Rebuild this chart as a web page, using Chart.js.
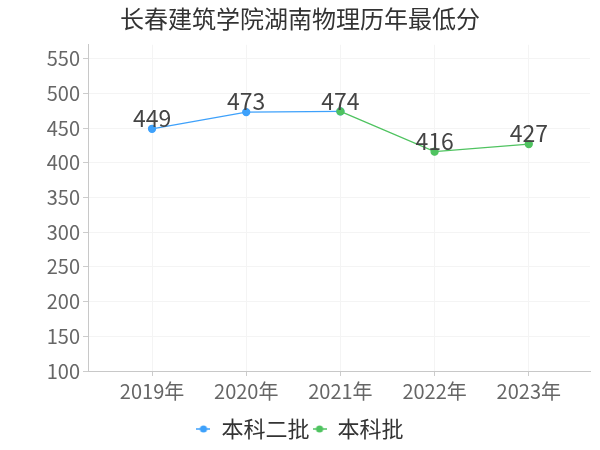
<!DOCTYPE html>
<html><head><meta charset="utf-8">
<script src="https://cdn.jsdelivr.net/npm/chart.js@4/dist/chart.umd.min.js"></script>
<style>html,body{margin:0;padding:0;background:#fff}#w{width:600px;height:450px}</style>
</head><body><div id="w"><canvas id="c" width="600" height="450"></canvas></div>
<script>
const categories = ['2019年','2020年','2021年','2022年','2023年'];
const seriesNames = ['本科二批','本科批'];
const erpiValues = [449, 473, 474, null, null];
const benkeValues = [null, null, 474, 416, 427];
const yTicks = [100,150,200,250,300,350,400,450,500,550];
const colors = ['#3ea1fb','#4fc360'];
const FONT = "'Noto Sans CJK SC','Noto Sans',sans-serif";

function toPts(arr){ return arr.map((v,i)=> v==null?null:{x:i,y:v}).filter(p=>p); }

function legendIcon(color){
  const c = document.createElement('canvas'); c.width = 14; c.height = 10;
  const g = c.getContext('2d');
  g.strokeStyle = color; g.lineWidth = 1.5;
  g.beginPath(); g.moveTo(0,5); g.lineTo(14,5); g.stroke();
  g.fillStyle = color; g.beginPath(); g.arc(7,5,3.6,0,Math.PI*2); g.fill();
  return c;
}

const labelPlugin = {
  id:'lbl',
  afterDatasetsDraw(chart){
    const ctx = chart.ctx; const seen = new Set();
    ctx.save();
    ctx.font = "23px " + FONT; ctx.fillStyle = '#444'; ctx.textAlign='center'; ctx.textBaseline='bottom';
    chart.data.datasets.forEach((ds,di)=>{
      const meta = chart.getDatasetMeta(di);
      meta.data.forEach((el,i)=>{
        const p = ds.data[i]; const key = p.x+'_'+p.y;
        if(seen.has(key)) return; seen.add(key);
        ctx.fillText(String(p.y), el.x, el.y + 1);
      });
    });
    ctx.restore();
  }
};

new Chart(document.getElementById('c'), {
  type:'line',
  data:{ datasets:[
    {label:seriesNames[0], order:1, data:toPts(erpiValues), borderColor:colors[0], backgroundColor:colors[0], borderWidth:1.3, pointRadius:3.5, pointHoverRadius:3.5, tension:0},
    {label:seriesNames[1], order:0, data:toPts(benkeValues), borderColor:colors[1], backgroundColor:colors[1], borderWidth:1.3, pointRadius:3.5, pointHoverRadius:3.5, tension:0}
  ]},
  options:{
    responsive:false, animation:false, devicePixelRatio:1,
    layout:{padding:{left:10,right:10,top:0,bottom:0}},
    plugins:{
      title:{display:true, text:'长春建筑学院湖南物理历年最低分', color:'#333', font:{family:FONT,size:24,weight:'normal'}, padding:{top:4,bottom:12}},
      legend:{position:'bottom', labels:{usePointStyle:true, pointStyleWidth:14, color:'#333', font:{family:FONT,size:22}, padding:3,
        generateLabels(chart){
          return chart.data.datasets.map((ds,i)=>({text:ds.label, pointStyle:legendIcon(ds.borderColor), fillStyle:ds.borderColor, strokeStyle:ds.borderColor, lineWidth:0, hidden:false, datasetIndex:i, fontColor:'#333'}));
        }}},
      tooltip:{enabled:false}
    },
    scales:{
      x:{type:'linear', min:-0.68, max:4.65,
        afterBuildTicks(ax){ ax.ticks = categories.map((c,i)=>({value:i})); },
        afterFit(ax){ ax.height += 9; },
        ticks:{callback:(v)=>categories[v], color:'#666', font:{family:FONT,size:20}, padding:3, maxRotation:0, autoSkip:false},
        grid:{color:'#f4f4f4', drawTicks:true, tickLength:5, tickColor:'#ccc'},
        border:{color:'#c8c8c8'}
      },
      y:{min:100, max:570,
        afterBuildTicks(ax){ ax.ticks = yTicks.map(v=>({value:v})); },
        afterFit(ax){ ax.width = 78; },
        ticks:{color:'#666', font:{family:FONT,size:20}, padding:3},
        grid:{color:'#f4f4f4', tickLength:5, tickColor:'#ccc'},
        border:{color:'#c8c8c8'}
      }
    }
  },
  plugins:[labelPlugin]
});
</script></body></html>
